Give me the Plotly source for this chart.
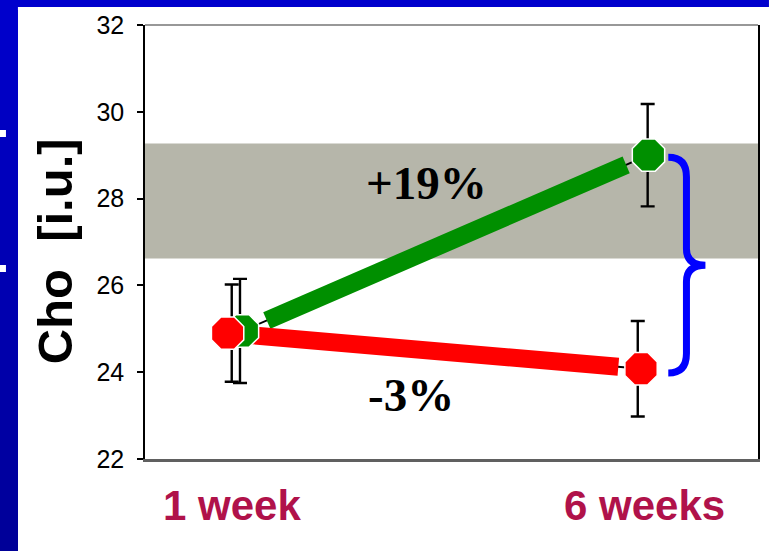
import plotly.graph_objects as go

# --- data -------------------------------------------------------------
categories = ["1 week", "6 weeks"]
weeks = [1, 6]

green_mean = [24.95, 29.0]
green_err = [1.2, 1.18]
red_mean = [24.9, 24.08]
red_err = [1.12, 1.1]

change_labels = ["+19%", "-3%"]

y_ticks = [22, 24, 26, 28, 30, 32]
normal_band = [26.62, 29.27]

# small horizontal offsets so overlapping points stay readable
green_marker_dx = [0.13, 0.05]
red_marker_dx = [-0.05, -0.04]
green_bar_dx = [0.10, 0.04]
red_bar_dx = [0.0, -0.08]

GREEN = "#008F00"
RED = "#FF0000"
CRIMSON = "#B0124A"
BLUE = "#0000FF"
NO_LINE = dict(width=0, color="rgba(0,0,0,0)")

# plot-area geometry (pixels) used for decorations outside the axes
W, H = 769, 551
L, R, T, B = 145, 9, 25, 92
PW, PH = W - L - R, H - T - B


def px_x(px):
    return (px - L) / PW


def px_y(py):
    return (H - B - py) / PH


fig = go.Figure()

# thin connector and thick trend segment for each group
for mean, dx, colour in [(green_mean, green_marker_dx, GREEN), (red_mean, red_marker_dx, RED)]:
    xs = [w + d for w, d in zip(weeks, dx)]
    fig.add_trace(go.Scatter(x=xs, y=mean, mode="lines",
                             line=dict(color="black", width=2),
                             hoverinfo="skip", showlegend=False))
    t0, t1 = 0.06, 0.945
    seg_x = [xs[0] + t * (xs[1] - xs[0]) for t in (t0, t1)]
    seg_y = [mean[0] + t * (mean[1] - mean[0]) for t in (t0, t1)]
    fig.add_trace(go.Scatter(x=seg_x, y=seg_y, mode="lines",
                             line=dict(color=colour, width=18),
                             hoverinfo="skip", showlegend=False))

# error bars
for mean, err, dx in [(green_mean, green_err, green_bar_dx), (red_mean, red_err, red_bar_dx)]:
    fig.add_trace(go.Scatter(
        x=[w + d for w, d in zip(weeks, dx)], y=mean, mode="markers",
        marker=dict(size=1, color="rgba(0,0,0,0)"),
        error_y=dict(type="data", array=err, visible=True,
                     color="black", thickness=2.4, width=7),
        hoverinfo="skip", showlegend=False))

# group means
for mean, dx, colour in [(green_mean, green_marker_dx, GREEN), (red_mean, red_marker_dx, RED)]:
    fig.add_trace(go.Scatter(
        x=[w + d for w, d in zip(weeks, dx)], y=mean, mode="markers",
        marker=dict(symbol="octagon", size=35, color=colour,
                    line=dict(color="white", width=1.5)),
        showlegend=False))

shapes = []

# reference range band
shapes.append(dict(type="rect", xref="paper", yref="y", x0=0, x1=1,
                   y0=normal_band[0], y1=normal_band[1],
                   fillcolor="#B6B6AA", line=NO_LINE, layer="below"))

# top frame line
shapes.append(dict(type="line", xref="paper", yref="paper", x0=0, x1=1, y0=1, y1=1,
                   line=dict(color="#333333", width=1.2)))

# curly brace spanning the two 6-week means
xb = weeks[1]
x0, x1, x2 = xb + 0.29, xb + 0.51, xb + 0.74
yT, yB = green_mean[1] - 0.05, red_mean[1] - 0.1
yM = (yT + yB) / 2
brace = (f"M {x0},{yT} Q {x1},{yT} {x1},{yT - 0.45} "
         f"L {x1},{yM + 0.38} Q {x1},{yM} {x2},{yM} "
         f"Q {x1},{yM} {x1},{yM - 0.38} "
         f"L {x1},{yB + 0.45} Q {x1},{yB} {x0},{yB}")
shapes.append(dict(type="path", xref="x", yref="y", path=brace,
                   line=dict(color=BLUE, width=7)))

# slide background strips (vertical gradient on the left, solid on top);
# each band runs to the bottom edge so neighbours overlap without seams
n = 58
step = 10
for i in range(n):
    f = i / (n - 1)
    c = f"rgb(0,0,{int(205 - 55 * f)})"
    shapes.append(dict(type="rect", xref="paper", yref="paper",
                       x0=px_x(-2), x1=px_x(17.5),
                       y0=px_y(H + 5), y1=px_y(i * step),
                       fillcolor=c, line=NO_LINE))
shapes.append(dict(type="rect", xref="paper", yref="paper",
                   x0=px_x(-2), x1=px_x(W + 2), y0=px_y(7), y1=px_y(-2),
                   fillcolor="rgb(0,0,205)", line=NO_LINE))
for yy in (130, 265):
    shapes.append(dict(type="rect", xref="paper", yref="paper",
                       x0=px_x(-2), x1=px_x(5.5), y0=px_y(yy + 7), y1=px_y(yy),
                       fillcolor="white", line=NO_LINE))

annotations = []

# percentage change labels
annotations.append(dict(x=3.355, y=28.37, xref="x", yref="y", text=change_labels[0],
                        showarrow=False,
                        font=dict(family="Liberation Serif", size=47, color="black", weight="bold")))
annotations.append(dict(x=3.174, y=23.48, xref="x", yref="y", text=change_labels[1],
                        showarrow=False,
                        font=dict(family="Liberation Serif", size=47, color="black", weight="bold")))

# time-point labels
for w, cat in zip(weeks, categories):
    annotations.append(dict(x=w, y=px_y(505), xref="x", yref="paper", text=cat,
                            showarrow=False, yanchor="middle",
                            font=dict(family="Liberation Sans", size=42, color=CRIMSON,
                                      weight="bold")))

# y-axis title
annotations.append(dict(x=px_x(55), y=px_y(251), xref="paper", yref="paper",
                        text="Cho\u00a0\u00a0[i.u.]", textangle=-90, showarrow=False,
                        xanchor="center", yanchor="middle",
                        font=dict(family="Liberation Sans", size=49, color="black",
                                  weight="bold")))

fig.update_layout(
    width=W, height=H,
    margin=dict(l=L, r=R, t=T, b=B),
    paper_bgcolor="white", plot_bgcolor="white",
    shapes=shapes, annotations=annotations,
    showlegend=False,
    xaxis=dict(range=[-0.051, 7.377], showticklabels=False, ticks="",
               showgrid=False, zeroline=False, showline=True,
               linecolor="#606060", linewidth=2.5),
    yaxis=dict(range=[22, 32], tickvals=y_ticks, ticks="outside", ticklen=6,
               tickwidth=1.5, tickcolor="black", showgrid=False, zeroline=False,
               showline=True, linecolor="black", linewidth=1.5, mirror=True,
               ticklabelstandoff=8,
               tickfont=dict(family="Liberation Sans", size=25, color="black")),
)

fig.write_html("out.html")
